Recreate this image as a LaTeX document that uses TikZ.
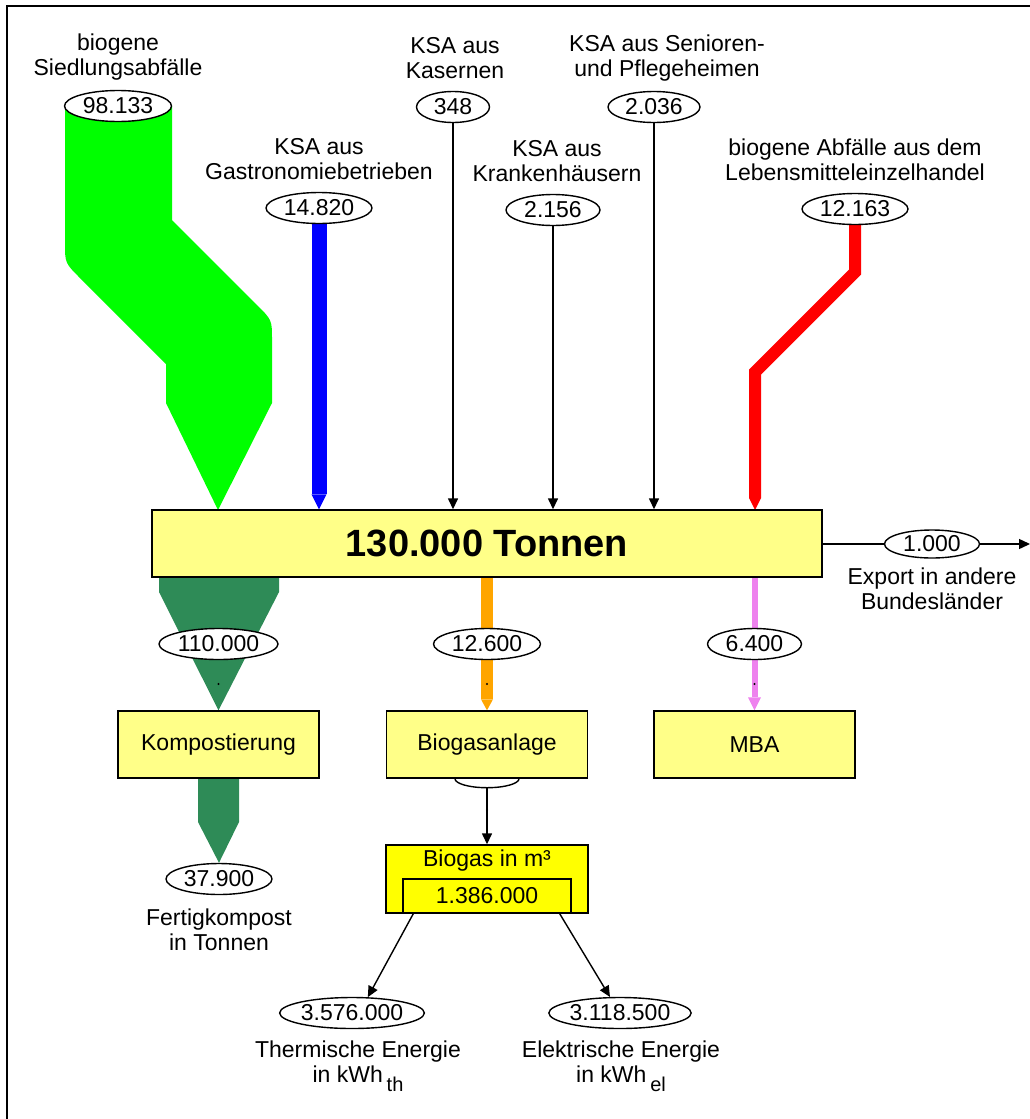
\documentclass[tikz,border=0pt]{standalone}
\usepackage{fontspec}
\setmainfont{Liberation Sans}
\usetikzlibrary{shapes.geometric,arrows.meta,calc,backgrounds}
\definecolor{boxyellow}{RGB}{255,255,136}
\definecolor{gasyellow}{RGB}{255,255,0}
\definecolor{srcgreen}{RGB}{0,255,0}
\definecolor{compgreen}{RGB}{46,139,87}
\definecolor{flowblue}{RGB}{0,0,255}
\definecolor{flowred}{RGB}{255,0,0}
\definecolor{floworange}{RGB}{255,165,0}
\definecolor{flowviolet}{RGB}{238,130,238}
\tikzset{
  box/.style={draw,fill=boxyellow,minimum width=201,minimum height=67,inner sep=0},
  val/.style={draw,ellipse,fill=white,inner sep=0,minimum height=31,minimum width=#1},
  lab/.style={align=center},
  arr/.style={-{Triangle[length=11pt,width=10pt]}}
}
\begin{document}
\begin{tikzpicture}[x=1pt,y=-1pt,line width=1.4pt,font=\fontsize{23}{25}\selectfont]
\useasboundingbox (0,0) rectangle (1030,1119);
\draw[line width=2pt] (7,1119) -- (7,6) -- (1030,6);
% inputs
\foreach \nm/\x/\lx/\y/\w/\amount/\txt in {
  t98/118/118/106/107/98.133/{biogene\\Siedlungsabfälle},
  t14/319/319/208/106/14.820/{KSA aus\\Gastronomiebetrieben},
  t348/453/455/107/73/348/{KSA aus\\Kasernen},
  t2156/553/557/210/94/2.156/{KSA aus\\Krankenhäusern},
  t2036/654/667/107/92/2.036/{KSA aus Senioren-\\und Pflegeheimen},
  t12163/855/855/209/106/12.163/{biogene Abfälle aus dem\\Lebensmitteleinzelhandel}}{
  \node[val=\w] (\nm) at (\x,\y) {\amount};
  \node[lab] at (\lx,\y-49) {\txt};
}
\node[box,minimum width=670,font=\fontsize{38}{44}\selectfont\bfseries] (main) at (487,543.5) {130.000 Tonnen};
\foreach \nm in {t348,t2156,t2036}
  \draw[arr] (\nm) -- (\nm |- main.north);
% export
\node[val=95,minimum height=28] (t1000) at (932,544) {1.000};
\node[lab] at (932,589) {Export in andere\\Bundesländer};
\coordinate (exp) at (1030,544);
\draw (main.east |- t1000) -- (t1000.west);
\draw[arr] (t1000.east) -- (exp);
% outputs
\foreach \nm/\x/\w/\amount/\bx/\txt in {
  t110/218.5/119/110.000/kompost/Kompostierung,
  t126/487/107/12.600/biogasanl/Biogasanlage,
  t64/754.5/94/6.400/mba/MBA}{
  \node[val=\w] (\nm) at (\x,644) {\amount};
  \node[box] (\bx) at (\x,744.5) {\txt};
  \fill (\x,684) circle (1.2pt);
}
\node[val=106] (t379) at (219,879) {37.900};
\node[lab] at (219,930) {Fertigkompost\\in Tonnen};
% biogas
\draw ([xshift=-32pt]biogasanl.south) arc[start angle=180,end angle=360,x radius=32pt,y radius=9pt];
\node[box,fill=gasyellow,minimum width=202,minimum height=68] (biogas) at (487,879) {};
\node[draw,minimum width=168,minimum height=34,inner sep=0] (gasval) at (487,896) {1.386.000};
\node (gastxt) at (487,861) {Biogas in m³};
\draw[arr] ([yshift=-9pt]biogasanl.south) -- (biogas.north);
\fill (487,810) circle (1.2pt);
\node[val=139] (t357) at (352,1013) {3.576.000};
\node[val=139] (t311) at (620,1013) {3.118.500};
\draw[arr] ($(biogas.south west)+(28,0)$) -- (t357.45);
\draw[arr] ($(biogas.south east)+(-29,0)$) -- (t311.122);
\node[lab] at (358,1066) {Thermische Energie\\in kWh\,\raisebox{-9pt}{\fontsize{20}{20}\selectfont th}};
\node[lab] at (621,1066) {Elektrische Energie\\in kWh\,\raisebox{-9pt}{\fontsize{20}{20}\selectfont el}};
% flows
\begin{scope}[on background layer]
\fill[srcgreen] (t98.center) -| (65,243) .. controls (65,263) .. (80,278) -- (166,364) -- (166,403)
  -- (218,510) -- (272,403) -- (272,340) .. controls (272,320) .. (257,305) -- (172,220) |- (t98.center);
\draw[line width=15pt,flowblue,-{Triangle[length=15pt,width=15pt,line width=0pt]}] (t14.center) -- (t14 |- main.north);
\draw[line width=12pt,flowred,line join=miter,-{Triangle[length=12pt,width=12pt,line width=0pt]}]
  (t12163.center) -- (855,272) -- (755,372) -- (755,510);
\fill[compgreen] (159,577) -- (279,577) -- (279,592) -- (kompost.north) -- (159,592) -- cycle;
\draw[line width=12pt,floworange,-{Triangle[length=11pt,width=12pt,line width=0pt]}] (main.south -| t126) -- (biogasanl.north);
\draw[line width=6pt,flowviolet,-{Triangle[length=13pt,width=13pt,line width=0pt]}] (main.south -| t64) -- (mba.north);
\fill[compgreen] (198,778) -- (239,778) -- (239,822) -- (t379.north) -- (198,822) -- cycle;
\end{scope}
\end{tikzpicture}
\end{document}
